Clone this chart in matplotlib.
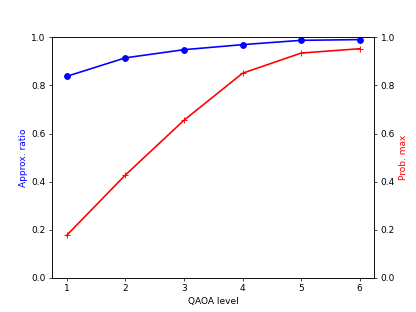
import matplotlib
matplotlib.use("Agg")
import matplotlib.pyplot as plt

levels = [1, 2, 3, 4, 5, 6]
approx_ratio = [0.838, 0.915, 0.949, 0.970, 0.988, 0.991]
prob_max = [0.176, 0.427, 0.655, 0.851, 0.935, 0.953]

fig, ax1 = plt.subplots(figsize=(6.4, 4.8), dpi=65)
ax1.plot(levels, approx_ratio, "b-o", lw=1.8, ms=6.5)
ax1.set_xlabel("QAOA level")
ax1.set_ylabel("Approx. ratio", color="b")
ax1.set_ylim(0, 1)

ax2 = ax1.twinx()
ax2.plot(levels, prob_max, "r-+", lw=1.8, ms=7)
ax2.set_ylabel("Prob. max", color="r")
ax2.set_ylim(0, 1)

fig.savefig("out.png", dpi=65)
